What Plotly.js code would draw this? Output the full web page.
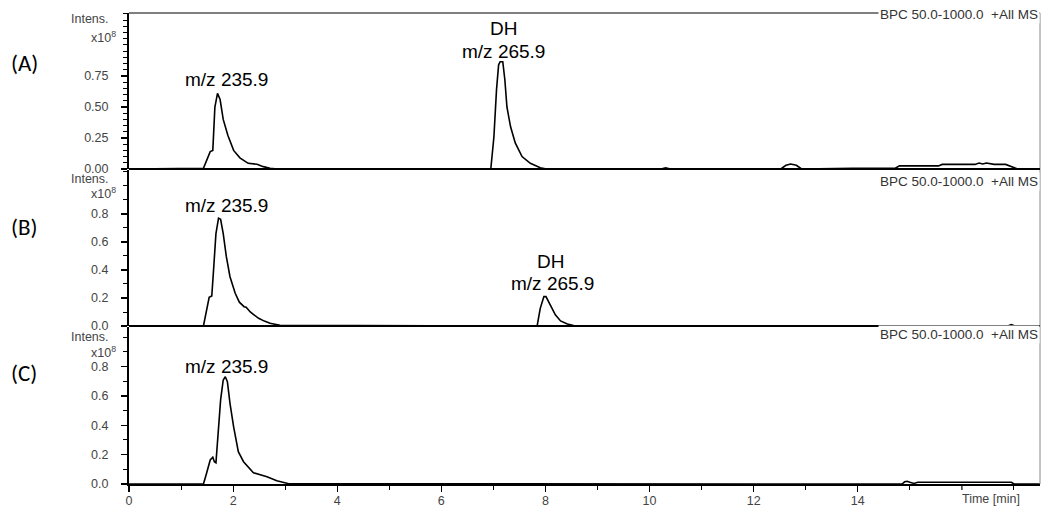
<!DOCTYPE html>
<html>
<head>
<meta charset="utf-8">
<script src="https://cdn.plot.ly/plotly-3.0.1.min.js"></script>
<style>html,body{margin:0;padding:0;background:#fff;}#chart{width:1041px;height:507px;}</style>
</head>
<body>
<div id="chart"></div>
<script>
// ---- data (retention time in min, intensity in x10^8) ----
const timeA = [0, 1.43, 1.56, 1.61, 1.65, 1.70, 1.75, 1.81, 1.90, 2.01, 2.13, 2.29, 2.46, 2.58, 2.71, 2.85,
  6.95, 7.01, 7.06, 7.10, 7.13, 7.18, 7.22, 7.26, 7.33, 7.42, 7.55, 7.71, 7.90, 8.02,
  10.22, 10.31, 10.40, 12.52, 12.62, 12.71, 12.82, 12.92, 13.90, 14.30, 14.72, 14.80, 15.55, 15.62,
  16.25, 16.33, 16.40, 16.47, 16.54, 16.62, 16.84, 17.07, 17.5];
const intA  = [0, 0.006, 0.14, 0.15, 0.50, 0.61, 0.56, 0.40, 0.27, 0.15, 0.09, 0.046, 0.038, 0.019, 0.006, 0,
  0, 0.26, 0.64, 0.84, 0.865, 0.865, 0.72, 0.50, 0.34, 0.21, 0.10, 0.046, 0.01, 0,
  0, 0.01, 0, 0, 0.03, 0.04, 0.03, 0, 0.006, 0.008, 0.006, 0.025, 0.025, 0.037,
  0.037, 0.048, 0.04, 0.048, 0.04, 0.037, 0.037, 0, 0];

const timeB = [0, 1.43, 1.54, 1.59, 1.62, 1.67, 1.72, 1.76, 1.81, 1.87, 1.94, 2.04, 2.12, 2.17, 2.21, 2.25,
  2.33, 2.40, 2.49, 2.60, 2.71, 2.90, 7.84, 7.90, 7.97, 8.01, 8.10, 8.19, 8.29, 8.42, 8.54,
  16.88, 16.95, 17.02, 17.5];
const intB  = [0, 0, 0.205, 0.214, 0.376, 0.66, 0.77, 0.762, 0.66, 0.495, 0.352, 0.234, 0.17, 0.15, 0.138, 0.134,
  0.10, 0.08, 0.055, 0.035, 0.02, 0.005, 0, 0.126, 0.21, 0.21, 0.15, 0.08, 0.036, 0.014, 0.003,
  0, 0.01, 0, 0];

const timeC = [0, 1.43, 1.49, 1.56, 1.61, 1.64, 1.67, 1.72, 1.76, 1.81, 1.85, 1.89, 1.94, 2.01, 2.10, 2.20,
  2.39, 2.65, 2.84, 3.07, 14.85, 14.90, 14.95, 15.00, 15.08, 15.15, 16.95, 17.0, 17.5];
const intC  = [0, 0, 0.073, 0.164, 0.182, 0.152, 0.145, 0.368, 0.573, 0.709, 0.731, 0.697, 0.55, 0.39, 0.22, 0.152,
  0.077, 0.05, 0.022, 0.002, 0, 0.015, 0.018, 0.012, 0.004, 0.012, 0.012, 0, 0];

const xTickVals = [0, 2, 4, 6, 8, 10, 12, 14];
const xTickText = ['0', '2', '4', '6', '8', '10', '12', '14'];
const xUnlabeledMajor = 16;
const yTickValsA = [0, 0.25, 0.5, 0.75];
const yTickTextA = ['0.00', '0.25', '0.50', '0.75'];
const yTickValsBC = [0, 0.2, 0.4, 0.6, 0.8];
const yTickTextBC = ['0.0', '0.2', '0.4', '0.6', '0.8'];

const panelLabels = ['(A)', '(B)', '(C)'];
const peakLabels = [
  {ax: 'A', t: 1.88, v: 0.72, text: 'm/z 235.9'},
  {ax: 'A', t: 7.19, v: 1.135, text: 'DH'},
  {ax: 'A', t: 7.19, v: 0.95, text: 'm/z 265.9'},
  {ax: 'B', t: 1.88, v: 0.864, text: 'm/z 235.9'},
  {ax: 'B', t: 8.10, v: 0.464, text: 'DH'},
  {ax: 'B', t: 8.13, v: 0.30, text: 'm/z 265.9'},
  {ax: 'C', t: 1.88, v: 0.80, text: 'm/z 235.9'}
];
const bpcText = 'BPC 50.0-1000.0  +All MS';

// ---- geometry helpers (pixel -> paper) ----
const L = 129, R = 1040, T = 13, B = 484;
const py = y => (B - y) / (B - T);
const pxp = x => (x - L) / (R - L);

const tickFont = {family: 'Liberation Sans Narrow, Liberation Sans, Arial, sans-serif', size: 12.5, color: '#444'};
const lineStyle = {color: '#000', width: 1.6};

const traces = [
  {x: timeA, y: intA, xaxis: 'x', yaxis: 'y', type: 'scatter', mode: 'lines', line: lineStyle, hoverinfo: 'skip'},
  {x: timeB, y: intB, xaxis: 'x', yaxis: 'y2', type: 'scatter', mode: 'lines', line: lineStyle, hoverinfo: 'skip'},
  {x: timeC, y: intC, xaxis: 'x', yaxis: 'y3', type: 'scatter', mode: 'lines', line: lineStyle, hoverinfo: 'skip'}
];

function yAxis(domain, range, vals, text, minorVals) {
  return {
    domain: domain, range: range, anchor: 'x', fixedrange: true,
    tickmode: 'array', tickvals: vals, ticktext: text,
    ticks: 'outside', ticklen: 6, tickwidth: 1.2, tickcolor: '#000',
    minor: {tickmode: 'array', tickvals: minorVals, ticks: 'outside', ticklen: 4, tickwidth: 1, tickcolor: '#000'},
    showline: true, linecolor: '#000', linewidth: 2,
    showgrid: false, zeroline: false, tickfont: tickFont, ticklabelstandoff: 10
  };
}
const minorA = [], minorBC = [];
for (let i = 1; i <= 25; i++) { if (i % 5 !== 0 || i > 15) minorA.push(+(i * 0.05).toFixed(2)); }
for (let i = 1; i <= 11; i++) { if (i % 2 === 1 || i === 10) minorBC.push(+(i * 0.1).toFixed(1)); }
const minorX = [1, 3, 5, 7, 9, 11, 13, 15, 17];

const annotations = [];
const panelY = [63, 227, 373];
panelLabels.forEach((t, i) => annotations.push({
  text: t, xref: 'paper', yref: 'paper', x: pxp(24), y: py(panelY[i]), xanchor: 'center', yanchor: 'middle',
  showarrow: false, font: {family: 'Carlito, Calibri, Open Sans, sans-serif', size: 23, color: '#000'}
}));
const intensY = [19, 179, 337], expY = [37, 193, 352];
for (let i = 0; i < 3; i++) {
  annotations.push({text: 'Intens.', xref: 'paper', yref: 'paper', x: pxp(111), y: py(intensY[i]),
    xanchor: 'right', yanchor: 'middle', showarrow: false, font: tickFont});
  annotations.push({text: 'x10<sup>8</sup>', xref: 'paper', yref: 'paper', x: pxp(118), y: py(expY[i]),
    xanchor: 'right', yanchor: 'middle', showarrow: false, font: tickFont});
}
const bpcY = [14, 181, 334];
bpcY.forEach(y => annotations.push({text: bpcText, xref: 'paper', yref: 'paper', x: 1, y: py(y),
  xanchor: 'right', yanchor: 'middle', showarrow: false, bgcolor: '#fff',
  font: {family: 'Liberation Sans, Arial, sans-serif', size: 13.5, color: '#333'}}));
annotations.push({text: 'Time [min]', xref: 'paper', yref: 'paper', x: pxp(960), y: py(499),
  xanchor: 'left', yanchor: 'middle', showarrow: false, font: tickFont});
const axMap = {A: ['x', 'y'], B: ['x', 'y2'], C: ['x', 'y3']};
peakLabels.forEach(p => annotations.push({text: p.text, xref: axMap[p.ax][0], yref: axMap[p.ax][1],
  x: p.t, y: p.v, xanchor: 'center', yanchor: 'middle', showarrow: false,
  font: {family: 'Liberation Sans, Arial, sans-serif', size: 19, color: '#000'}}));

const layout = {
  width: 1041, height: 507,
  margin: {l: L, r: 1041 - R, t: T, b: 507 - B},
  paper_bgcolor: '#fff', plot_bgcolor: '#fff', showlegend: false,
  xaxis: {
    domain: [0, 1], range: [0, 17.5], anchor: 'y3', fixedrange: true,
    tickmode: 'array', tickvals: xTickVals, ticktext: xTickText,
    ticks: 'outside', ticklen: 6, tickwidth: 1.2, tickcolor: '#000', ticklabelstandoff: -2,
    minor: {tickmode: 'array', tickvals: minorX, ticks: 'outside', ticklen: 4, tickwidth: 1, tickcolor: '#000'},
    showline: true, linecolor: '#000', linewidth: 2, showgrid: false, zeroline: false, tickfont: tickFont
  },
  yaxis: yAxis([py(169), 1], [0, 1.258], yTickValsA, yTickTextA, minorA),
  yaxis2: yAxis([py(326), py(170)], [0, 1.114], yTickValsBC, yTickTextBC, minorBC),
  yaxis3: yAxis([0, py(327)], [0, 1.07], yTickValsBC, yTickTextBC, minorBC),
  shapes: [
    {type: 'line', xref: 'paper', yref: 'paper', x0: 0, x1: 1, y0: 1, y1: 1, line: {color: '#000', width: 1}},
    {type: 'line', xref: 'paper', yref: 'paper', x0: 1, x1: 1, y0: 0, y1: 1, line: {color: '#888', width: 1}},
    {type: 'line', xref: 'paper', yref: 'y domain', x0: 0, x1: 1, y0: 0, y1: 0, line: {color: '#000', width: 2}},
    {type: 'line', xref: 'paper', yref: 'y2 domain', x0: 0, x1: 1, y0: 0, y1: 0, line: {color: '#000', width: 2}},
    {type: 'line', xref: 'x', yref: 'paper', x0: xUnlabeledMajor, x1: xUnlabeledMajor, y0: 0, y1: -6 / (B - T),
      line: {color: '#000', width: 1.2}}
  ],
  annotations: annotations
};

Plotly.newPlot('chart', traces, layout, {staticPlot: true, displayModeBar: false});
</script>
</body>
</html>
